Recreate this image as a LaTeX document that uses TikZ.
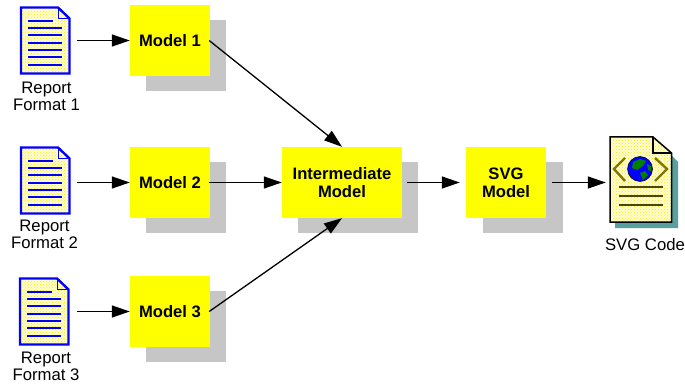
\documentclass[tikz,border=0pt]{standalone}
\usepackage{fontspec}
\setmainfont{Liberation Sans}
\usetikzlibrary{arrows.meta,patterns}
\definecolor{modelyellow}{RGB}{255,255,0}
\definecolor{shadowgray}{RGB}{198,198,198}
\definecolor{shadowteal}{RGB}{90,160,160}
\definecolor{docblue}{RGB}{0,0,255}
\definecolor{chevronolive}{RGB}{128,118,0}
\definecolor{globegreen}{RGB}{0,128,0}
\tikzset{
	model/.style={fill=modelyellow,minimum height=71pt,inner sep=0pt,font=\fontsize{16.6}{18}\selectfont\bfseries,align=center},
	shade box/.style={fill=shadowgray,minimum height=71pt,inner sep=0pt},
	caption/.style={font=\fontsize{16.7}{17}\selectfont,align=center,inner sep=0pt},
	docarea/.style={minimum width=50pt,minimum height=67pt,inner sep=0pt},
	flow/.style={-{Triangle[length=18pt,width=12pt]},line width=1.3pt},
	dotsfill/.style={preaction={fill=yellow!18},pattern=crosshatch dots,pattern color=yellow!85!orange}
}
\newcommand{\reportdoc}[2]{
	\node[docarea] at (#1,40.5) (#2) {};
	\begin{scope}[shift={(#1,0)}]
		\draw[docblue,line width=2.4pt,dotsfill] (-24,7.5) -- (13,7.5) -- (24.5,18.5) -- (24.5,73.5) -- (-24,73.5) -- cycle;
		\draw[docblue,line width=0.8pt] (13,7.5) -- (13,18.5) -- (24.5,18.5);
		\draw[docblue,line width=1.8pt] (-17,21) -- (8,21);
		\foreach \ly in {28,35,43,50,57,65}
			\draw[docblue,line width=1.8pt] (-17,\ly) -- (17,\ly);
	\end{scope}
}
\begin{document}
\begin{tikzpicture}[x=1pt,y=-1pt]
	\useasboundingbox (0,0) rectangle (685,385);
	\node[shade box,minimum width=80pt] at (186,55.5) (shade1) {};
	\node[shade box,minimum width=80pt] at (186,197.5) (shade2) {};
	\node[shade box,minimum width=80pt] at (186,326.5) (shade3) {};
	\node[shade box,minimum width=120pt] at (358,197.5) (shadeI) {};
	\node[shade box,minimum width=80pt] at (523,197.5) (shadeS) {};
	\node[model,minimum width=80pt] at (170,40.5) (model1) {Model 1};
	\node[model,minimum width=80pt] at (170,182.5) (model2) {Model 2};
	\node[model,minimum width=80pt] at (170,311.5) (model3) {Model 3};
	\node[model,minimum width=120pt] at (342,182.5) (inter) {Intermediate\\Model};
	\node[model,minimum width=80pt] at (506,182.5) (svg) {SVG\\Model};

	\begin{scope}[yshift=0pt]
		\reportdoc{45}{doc1}
	\end{scope}
	\begin{scope}[yshift=-140pt]
		\reportdoc{45}{doc2}
	\end{scope}
	\begin{scope}[yshift=-271pt]
		\reportdoc{44}{doc3}
	\end{scope}
	\node[caption] at (46.5,96) (cap1) {Report\\Format 1};
	\node[caption] at (44.5,234.5) (cap2) {Report\\Format 2};
	\node[caption] at (46,366.5) (cap3) {Report\\Format 3};

	\node[docarea,minimum width=62pt,minimum height=85pt] at (641,179.5) (code) {};
	\fill[shadowteal] (615,222) -- (615,228) -- (678,228) -- (678,162) -- (671,155) -- (671,222) -- cycle;
	\fill[white] (610,137) rectangle (672,222);
	\draw[black,line width=1.5pt,dotsfill] (610,137) -- (653,137) -- (671.5,153) -- (671.5,222) -- (610,222) -- cycle;
	\draw[black,line width=1.2pt] (653,137) -- (653,153) -- (671.5,153);
	\draw[chevronolive,line width=2.4pt] (625,158) -- (614,169) -- (625,181);
	\draw[chevronolive,line width=2.4pt] (655,158) -- (667,169) -- (655,181);
	\draw[black,fill=docblue,line width=0.5pt] (640,169) circle (12.5pt);
	\fill[globegreen] (633,162) -- (640,159) -- (646,161) -- (643,166) -- (637,170) -- (632,168) -- cycle;
	\fill[globegreen] (640,173) -- (645,171) -- (648,175) -- (643,180) -- cycle;
	\fill[globegreen] (647,164) -- (651,166) -- (651,171) -- (648,170) -- cycle;
	\foreach \ly in {187,196,205}
		\draw[chevronolive!60!black,line width=1.2pt] (619,\ly) -- (663,\ly);
	\node[caption] at (645,244.5) (capS) {SVG Code};

	\draw[flow] ([xshift=7pt]doc1.east |- model1.west) -- (model1.west);
	\draw[flow] ([xshift=7pt]doc2.east |- model2.west) -- (model2.west);
	\draw[flow] ([xshift=8pt]doc3.east |- model3.west) -- (model3.west);
	\draw[flow] ([xshift=-1pt]model1.east) -- (inter.north);
	\draw[flow] ([xshift=-1pt]model2.east) -- (inter.west);
	\draw[flow] ([xshift=-1pt]model3.east) -- (inter.south);
	\draw[flow] ([xshift=5pt]inter.east) -- ([xshift=-6pt]svg.west);
	\draw[flow] ([xshift=6pt]svg.east) -- ([xshift=-4pt]code.west |- svg.east);
\end{tikzpicture}
\end{document}
